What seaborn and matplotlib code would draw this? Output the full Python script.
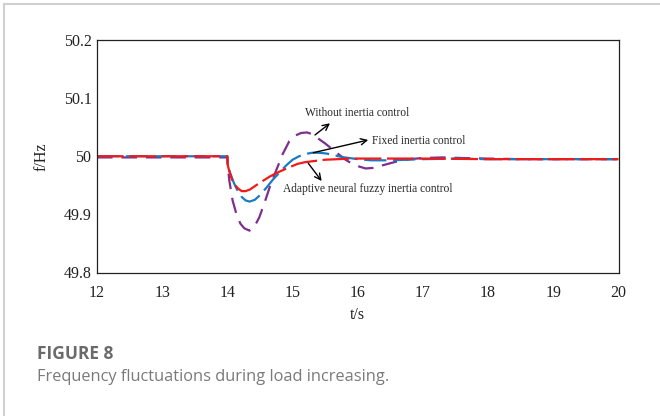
import matplotlib
matplotlib.use("Agg")
import matplotlib.pyplot as plt
import seaborn as sns
import pandas as pd
from matplotlib.lines import Line2D

# ---- data ----
t_without = [12, 14.0, 14.005, 14.03, 14.08, 14.14, 14.2, 14.26, 14.34, 14.42, 14.49, 14.57, 14.65,
             14.75, 14.85, 14.95, 15.05, 15.13, 15.22, 15.3, 15.4, 15.5, 15.6, 15.7, 15.8, 15.9,
             16.0, 16.12, 16.25, 16.4, 16.6, 16.8, 17.0, 17.3, 17.6, 18, 18.5, 19, 19.5, 20]
f_without = [49.998, 49.998, 49.985, 49.958, 49.924, 49.900, 49.884, 49.876, 49.872, 49.880, 49.895,
             49.920, 49.947, 49.976, 50.004, 50.026, 50.036, 50.040, 50.041, 50.038, 50.030, 50.022,
             50.013, 50.004, 49.995, 49.988, 49.983, 49.979, 49.980, 49.985, 49.991, 49.995, 49.997,
             49.998, 49.997, 49.996, 49.995, 49.995, 49.995, 49.995]

t_fixed = [12, 14.0, 14.005, 14.04, 14.1, 14.16, 14.22, 14.28, 14.34, 14.42, 14.5, 14.6, 14.7, 14.8,
           14.9, 15.0, 15.1, 15.2, 15.3, 15.4, 15.5, 15.6, 15.7, 15.8, 16.0, 16.2, 16.5, 17, 17.5,
           18, 19, 20]
f_fixed = [50.0, 50.0, 49.988, 49.972, 49.954, 49.940, 49.930, 49.924, 49.922, 49.925, 49.933,
           49.946, 49.960, 49.972, 49.984, 49.994, 50.000, 50.004, 50.006, 50.006, 50.005, 50.003,
           50.000, 49.998, 49.995, 49.993, 49.993, 49.995, 49.996, 49.995, 49.995, 49.995]

t_adaptive = [12, 14.0, 14.005, 14.03, 14.07, 14.12, 14.17, 14.22, 14.28, 14.35, 14.44, 14.55, 14.65,
              14.75, 14.85, 14.95, 15.08, 15.2, 15.35, 15.5, 15.7, 15.9, 16.2, 16.6, 17, 18, 19, 20]
f_adaptive = [50.0, 50.0, 49.985, 49.974, 49.960, 49.950, 49.944, 49.940, 49.940, 49.943, 49.950,
              49.958, 49.965, 49.971, 49.976, 49.981, 49.987, 49.990, 49.992, 49.994, 49.995, 49.996,
              49.996, 49.996, 49.996, 49.995, 49.995, 49.995]

x_ticks = [12, 13, 14, 15, 16, 17, 18, 19, 20]
y_ticks = [49.8, 49.9, 50.0, 50.1, 50.2]
y_tick_labels = ["49.8", "49.9", "50", "50.1", "50.2"]

sns.set_style("white")
plt.rcParams["font.family"] = ["Liberation Serif", "DejaVu Serif"]

fig = plt.figure(figsize=(6.6, 4.16), dpi=100)
ax = fig.add_axes([97 / 660, 1 - 272.5 / 416, (618.5 - 97) / 660, (272.5 - 40) / 416])

series = [
    (t_without, f_without, "#7E2F8E", (7, 4)),
    (t_fixed, f_fixed, "#1A7BC4", (10, 3)),
    (t_adaptive, f_adaptive, "#F01A1A", (12, 2.5)),
]
for t, f, c, d in series:
    df = pd.DataFrame({"t": t, "f": f})
    sns.lineplot(data=df, x="t", y="f", ax=ax, color=c, lw=1.6, sort=False)
    ax.lines[-1].set_dashes(d)

ax.set_xlim(12, 20)
ax.set_ylim(49.8, 50.2)
ax.set_xticks(x_ticks)
ax.set_xticklabels([str(v) for v in x_ticks])
ax.set_yticks(y_ticks)
ax.set_yticklabels(y_tick_labels)
ax.tick_params(axis="both", direction="in", length=4, width=0.8, labelsize=11.5, colors="#222222")
ax.tick_params(axis="x", pad=9)
ax.tick_params(axis="y", pad=4)
for s in ax.spines.values():
    s.set_color("#222222")
    s.set_linewidth(0.9)
    s.set_visible(True)
ax.set_xlabel("t/s", fontsize=11.5, color="#222222", labelpad=4)
ax.set_ylabel("f/Hz", fontsize=11.5, color="#222222", labelpad=10)

# annotations
arrow_kw = dict(arrowstyle="->", lw=1.0, color="black", shrinkA=0, shrinkB=0, mutation_scale=11)
ax.annotate("", xy=(15.574, 50.0567), xytext=(15.344, 50.0366), arrowprops=arrow_kw)
ax.annotate("", xy=(16.161, 50.028), xytext=(15.317, 50.0061), arrowprops=arrow_kw)
ax.annotate("", xy=(15.447, 49.9574), xytext=(15.241, 49.9879), arrowprops=arrow_kw)
ax.text(15.19, 50.0744, "Without inertia control", fontsize=8.3, va="center", ha="left")
ax.text(16.214, 50.0262, "Fixed inertia control", fontsize=8.3, va="center", ha="left")
ax.text(14.856, 49.9437, "Adaptive neural fuzzy inertia control", fontsize=8.3, va="center", ha="left")

# frame lines (top and left)
fig.add_artist(Line2D([4 / 660, 1], [1 - 4 / 416, 1 - 4 / 416], color="#d0d0d0", lw=1.5,
                      transform=fig.transFigure))
fig.add_artist(Line2D([4 / 660, 4 / 660], [0, 1 - 4 / 416], color="#d0d0d0", lw=1.5,
                      transform=fig.transFigure))

# caption
fig.text(37 / 660, 1 - 354 / 416, "FIGURE 8", fontsize=12.5, fontweight="bold",
         color="#6a6a6a", family=["Open Sans", "DejaVu Sans"], va="center", ha="left")
fig.text(37 / 660, 1 - 377 / 416, "Frequency fluctuations during load increasing.", fontsize=11.8,
         color="#7a7a7a", family=["Open Sans", "DejaVu Sans"], va="center", ha="left")

fig.savefig("out.png", dpi=100)
